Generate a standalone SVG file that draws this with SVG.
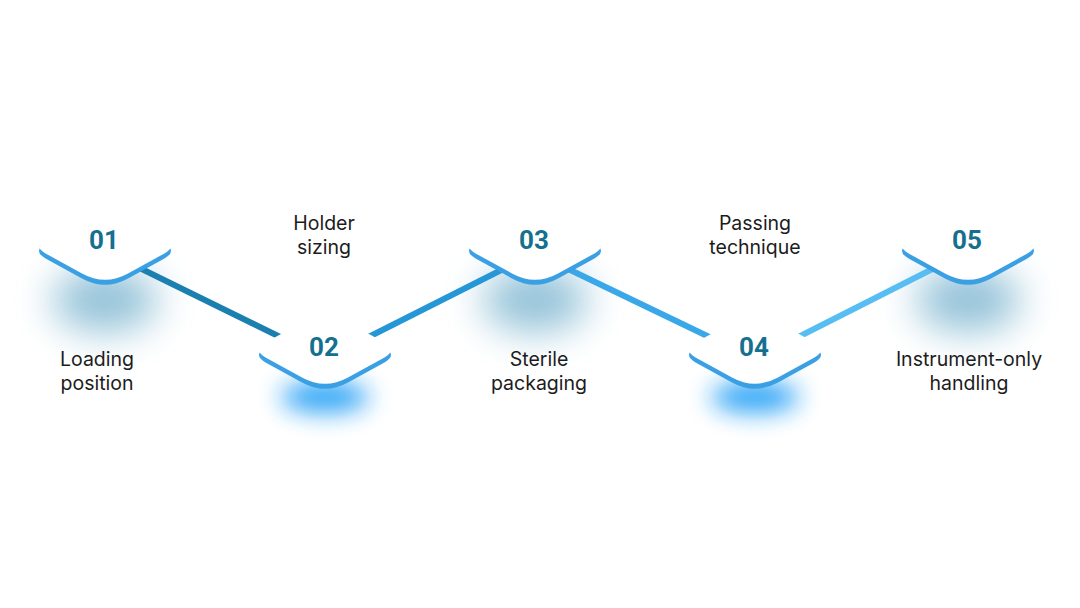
<svg xmlns="http://www.w3.org/2000/svg" width="1080" height="608" viewBox="0 0 1080 608">
  <defs>
    <filter id="blurTop" x="-100%" y="-100%" width="300%" height="300%">
      <feGaussianBlur stdDeviation="19"/>
    </filter>
    <filter id="blurBot" x="-100%" y="-100%" width="300%" height="300%">
      <feGaussianBlur stdDeviation="12"/>
    </filter>
    <path id="dia" d="M -59,-7.7 Q -73,0 -59,7.7 L -23,27.4 Q 0,40 23,27.4 L 59,7.7 Q 73,0 59,-7.7 L 23,-27.4 Q 0,-40 -23,-27.4 Z"/>
  </defs>
  <style>
    .edge { fill: #3aa0e3; }
    .face { fill: #ffffff; }
    .num { font-family: Roboto, "Liberation Sans", sans-serif; font-weight: 700; font-size: 26px; fill: #15708f; text-anchor: middle; }
    .lbl { font-family: Inter, "Liberation Sans", sans-serif; font-size: 19.5px; fill: #1c1c1c; text-anchor: middle; }
    .shTop { fill: #3a90b8; opacity: 0.55; filter: url(#blurTop); }
    .shBot { fill: #1f9cf5; opacity: 0.9; filter: url(#blurBot); }
    .conn { stroke-width: 6; fill: none; stroke-linecap: butt; }
  </style>
  <rect width="1080" height="608" fill="#ffffff"/>

  <g id="shadows">
    <ellipse class="shTop" cx="105" cy="300" rx="52" ry="32"/>
    <ellipse class="shTop" cx="535" cy="300" rx="52" ry="32"/>
    <ellipse class="shTop" cx="968" cy="300" rx="52" ry="32"/>
    <ellipse class="shBot" cx="325" cy="397" rx="44" ry="16"/>
    <ellipse class="shBot" cx="755" cy="397" rx="44" ry="16"/>
  </g>

  <g id="connectors">
    <line class="conn" x1="105" y1="251" x2="325" y2="359" stroke="#1b7fb0"/>
    <line class="conn" x1="325" y1="359" x2="535" y2="253" stroke="#2596d6"/>
    <line class="conn" x1="535" y1="253" x2="755" y2="359" stroke="#3aa7e8"/>
    <line class="conn" x1="755" y1="359" x2="968" y2="251" stroke="#57bdf3"/>
  </g>

  <g id="node01">
    <use href="#dia" class="edge" transform="translate(105,251)"/>
    <use href="#dia" class="face" transform="translate(105,246)"/>
    <text class="num" x="104" y="249">01</text>
  </g>
  <g id="node02">
    <use href="#dia" class="edge" transform="translate(325,355)"/>
    <use href="#dia" class="face" transform="translate(325,350)"/>
    <text class="num" x="324" y="356">02</text>
  </g>
  <g id="node03">
    <use href="#dia" class="edge" transform="translate(535,251)"/>
    <use href="#dia" class="face" transform="translate(535,246)"/>
    <text class="num" x="534" y="249">03</text>
  </g>
  <g id="node04">
    <use href="#dia" class="edge" transform="translate(755,355)"/>
    <use href="#dia" class="face" transform="translate(755,350)"/>
    <text class="num" x="754" y="356">04</text>
  </g>
  <g id="node05">
    <use href="#dia" class="edge" transform="translate(968,251)"/>
    <use href="#dia" class="face" transform="translate(968,246)"/>
    <text class="num" x="967" y="249">05</text>
  </g>

  <g id="labels">
    <text class="lbl" x="97" y="366">Loading</text>
    <text class="lbl" x="97" y="390">position</text>
    <text class="lbl" x="324" y="230">Holder</text>
    <text class="lbl" x="324" y="254">sizing</text>
    <text class="lbl" x="539" y="366">Sterile</text>
    <text class="lbl" x="539" y="390">packaging</text>
    <text class="lbl" x="755" y="230">Passing</text>
    <text class="lbl" x="755" y="254">technique</text>
    <text class="lbl" x="969" y="366">Instrument-only</text>
    <text class="lbl" x="969" y="390">handling</text>
  </g>
</svg>
